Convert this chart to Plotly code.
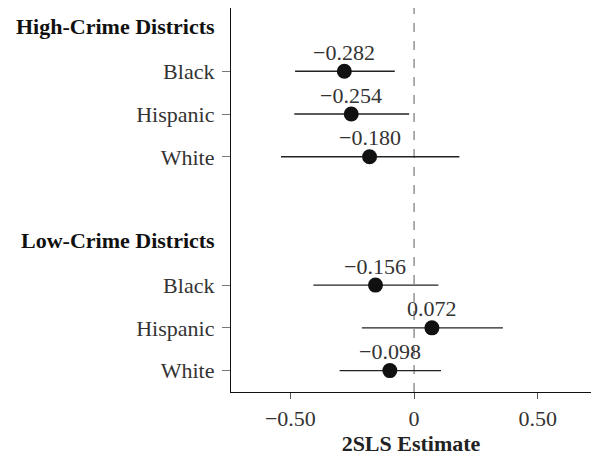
import plotly.graph_objects as go

# Two-stage least squares estimates with 95% intervals, by district type and race
groups = ["High-Crime Districts", "Low-Crime Districts"]
races = ["Black", "Hispanic", "White"]

est_high = [-0.282, -0.254, -0.180]
lo_high = [-0.481, -0.484, -0.538]
hi_high = [-0.078, -0.020, 0.183]

est_low = [-0.156, 0.072, -0.098]
lo_low = [-0.407, -0.211, -0.301]
hi_low = [0.098, 0.359, 0.109]

x_ticks = [-0.5, 0, 0.5]
x_tick_text = ["\u22120.50", "0", "0.50"]

FONT = "Liberation Serif"
SIZE = 22

# Row layout (bottom to top): each group gets its three races plus a header row,
# with one blank row between the groups.
series = [(est_low, lo_low, hi_low), (est_high, lo_high, hi_high)]
group_order = [groups[1], groups[0]]
rows_est, rows_lo, rows_hi, rows_y, tick_y, tick_text = [], [], [], [], [], []
header_y = {}
pos = 1
for g, (est, lo, hi) in zip(group_order, series):
    for i in reversed(range(len(races))):
        rows_y.append(pos)
        rows_est.append(est[i])
        rows_lo.append(lo[i])
        rows_hi.append(hi[i])
        tick_y.append(pos)
        tick_text.append(races[i])
        pos += 1
    header_y[g] = pos
    pos += 2
top_row = max(header_y.values())


def fmt(v):
    return f"{v:.3f}".replace("-", "\u2212")


fig = go.Figure()
fig.add_trace(go.Scatter(
    x=rows_est,
    y=rows_y,
    mode="markers",
    marker=dict(size=15, color="#111111"),
    error_x=dict(
        type="data",
        symmetric=False,
        array=[h - e for h, e in zip(rows_hi, rows_est)],
        arrayminus=[e - l for e, l in zip(rows_est, rows_lo)],
        width=0,
        thickness=1.4,
        color="#222222",
    ),
    cliponaxis=False,
    showlegend=False,
))

# Value labels just above each point estimate
for xv, yv in zip(rows_est, rows_y):
    fig.add_annotation(x=xv, y=yv, xref="x", yref="y", text=fmt(xv),
                       showarrow=False, yshift=19,
                       font=dict(family=FONT, size=SIZE, color="#333333"))

# Reference line at zero
fig.add_shape(type="line", xref="x", yref="paper", x0=0, x1=0, y0=0, y1=1,
              line=dict(color="#999999", width=1.6, dash="dash"), layer="below")

for g, yv in header_y.items():
    fig.add_annotation(x=0, xref="paper", y=yv, yref="y", text=f"<b>{g}</b>",
                       showarrow=False, xanchor="right", xshift=-14, yshift=2,
                       font=dict(family=FONT, size=SIZE, color="#111111"))

fig.update_layout(
    width=591, height=456,
    margin=dict(l=231, r=0, t=8, b=64),
    plot_bgcolor="white", paper_bgcolor="white",
    font=dict(family=FONT, size=SIZE, color="#333333"),
    xaxis=dict(
        range=[-0.74, 0.715],
        tickvals=x_ticks, ticktext=x_tick_text,
        ticks="outside", ticklen=6, tickcolor="#555555",
        showline=True, linecolor="#111111", linewidth=1.3,
        showgrid=False, zeroline=False,
        title=dict(text="<b>2SLS Estimate</b>", font=dict(family=FONT, size=SIZE, color="#222222"), standoff=10),
        tickfont=dict(family=FONT, size=SIZE, color="#333333"),
    ),
    yaxis=dict(
        range=[0.5, top_row + 0.48],
        tickvals=tick_y, ticktext=tick_text,
        ticks="outside", ticklen=8, tickcolor="#777777",
        ticklabelstandoff=3,
        showline=True, linecolor="#111111", linewidth=1.3,
        showgrid=False, zeroline=False,
        tickfont=dict(family=FONT, size=SIZE, color="#333333"),
    ),
)

fig.write_html("out.html")
